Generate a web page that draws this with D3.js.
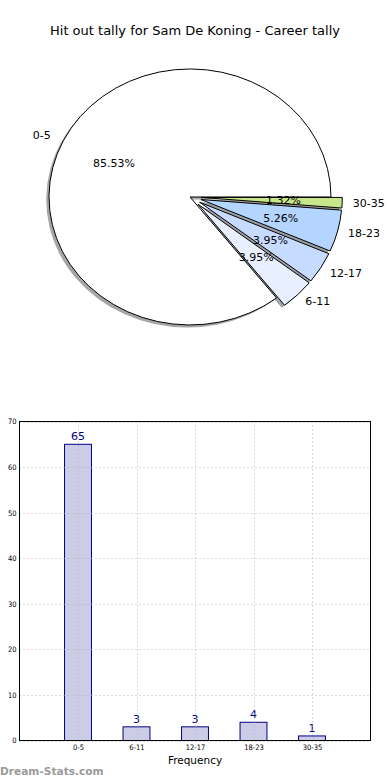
<!DOCTYPE html>
<html>
<head>
<meta charset="utf-8">
<script src="https://cdn.jsdelivr.net/npm/d3@7"></script>
<style>
  html, body { margin: 0; padding: 0; background: #fff; }
  svg { display: block; font-family: "DejaVu Sans", sans-serif; }
</style>
</head>
<body>
<svg id="chart" width="390" height="780"></svg>
<script>
// ---- data ----
const title = "Hit out tally for Sam De Koning - Career tally";
const categories = ["0-5", "6-11", "12-17", "18-23", "30-35"];
const counts = [65, 3, 3, 4, 1];
const pieColors = ["#ffffff", "#e8f0ff", "#c6dbff", "#b3d5ff", "#c8e68a"];
const explode = [0, 0.08, 0.08, 0.08, 0.08];
const yTicks = [0, 10, 20, 30, 40, 50, 60, 70];
const xLabel = "Frequency";
const watermark = "Dream-Stats.com";

(function () {
const svg = d3.select("#chart");

// ---- title ----
svg.append("text").attr("x", 195).attr("y", 35).attr("text-anchor", "middle")
  .attr("font-size", 13).attr("fill", "#000").text(title);

// ---- pie (matplotlib style: start at east, counter-clockwise, elliptical) ----
const cx = 190, cy = 197, rx = 141, ry = 128;
const total = d3.sum(counts);
const pie = d3.pie().sort(null).startAngle(Math.PI / 2).endAngle(Math.PI / 2 - 2 * Math.PI);
const arcs = pie(counts);
const arc = d3.arc().innerRadius(0).outerRadius(1);
const pieG = svg.append("g");

function offsetOf(d, dist) {
  const a = (d.startAngle + d.endAngle) / 2;
  return [cx + dist * rx * Math.sin(a), cy - dist * ry * Math.cos(a)];
}

// shadows (below all wedges)
arcs.forEach((d, i) => {
  const [ox, oy] = offsetOf(d, explode[i]);
  const c = d3.rgb(pieColors[i]);
  pieG.append("path")
    .attr("d", arc(d))
    .attr("transform", `translate(${ox - 2.8},${oy + 2.6}) scale(${rx},${ry})`)
    .attr("fill", d3.rgb(c.r * 0.3, c.g * 0.3, c.b * 0.3))
    .attr("fill-opacity", 0.5)
    .attr("stroke", "none");
});
// wedges
arcs.forEach((d, i) => {
  const [ox, oy] = offsetOf(d, explode[i]);
  pieG.append("path")
    .attr("d", arc(d))
    .attr("transform", `translate(${ox},${oy}) scale(${rx},${ry})`)
    .attr("fill", pieColors[i])
    .attr("stroke", "#000")
    .attr("stroke-width", 1)
    .attr("vector-effect", "non-scaling-stroke")
    .attr("stroke-linejoin", "round");
});
// labels
arcs.forEach((d, i) => {
  const a = (d.startAngle + d.endAngle) / 2;
  const [lx, ly] = offsetOf(d, 1.1 + explode[i] * 0.7);
  pieG.append("text")
    .attr("x", lx).attr("y", ly).attr("dy", "0.35em")
    .attr("text-anchor", Math.sin(a) > 0 ? "start" : "end")
    .attr("font-size", 11).attr("fill", "#000")
    .text(categories[i]);
  const [px, py] = offsetOf(d, 0.6 + explode[i] * 0.8);
  pieG.append("text")
    .attr("x", px).attr("y", py).attr("dy", "0.35em")
    .attr("text-anchor", "middle")
    .attr("font-size", 11).attr("fill", "#000")
    .text((counts[i] / total * 100).toFixed(2) + "%");
});

// ---- bar chart ----
const pLeft = 19.5, pRight = 370.5, pTop = 421.5, pBottom = 740.5;
const x = d3.scaleLinear().domain([-1, categories.length]).range([pLeft, pRight]);
const y = d3.scaleLinear().domain([0, 70]).range([pBottom, pTop]);
const barW = 0.46;
const barG = svg.append("g");

barG.selectAll("rect.bar").data(counts).join("rect")
  .attr("class", "bar")
  .attr("x", (d, i) => x(i - barW / 2))
  .attr("width", x(barW) - x(0))
  .attr("y", d => y(d))
  .attr("height", d => y(0) - y(d))
  .attr("fill", "#000080").attr("fill-opacity", 0.2)
  .attr("stroke", "#000080").attr("stroke-width", 1);

// grid
const gridG = svg.append("g").attr("stroke", "#b4b4b4").attr("stroke-width", 1)
  .attr("stroke-dasharray", "1,3");
yTicks.forEach(t => {
  gridG.append("line").attr("x1", pLeft).attr("x2", pRight)
    .attr("y1", Math.round(y(t)) + 0.5).attr("y2", Math.round(y(t)) + 0.5);
});
categories.forEach((c, i) => {
  gridG.append("line").attr("x1", Math.round(x(i)) + 0.5).attr("x2", Math.round(x(i)) + 0.5)
    .attr("y1", pTop).attr("y2", pBottom);
});

// value labels
barG.selectAll("text.val").data(counts).join("text")
  .attr("class", "val")
  .attr("x", (d, i) => x(i)).attr("y", d => y(d) - 4)
  .attr("text-anchor", "middle").attr("font-size", 11).attr("fill", "#000080")
  .text(d => d);

// axes frame
svg.append("rect").attr("x", pLeft).attr("y", pTop)
  .attr("width", pRight - pLeft).attr("height", pBottom - pTop)
  .attr("fill", "none").attr("stroke", "#000").attr("stroke-width", 1);

// y tick labels
const yAxis = d3.axisLeft(y).tickValues(yTicks).tickSize(0).tickPadding(3);
const yg = svg.append("g").attr("transform", `translate(${pLeft},0)`).call(yAxis);
yg.select(".domain").remove();
yg.selectAll("text").attr("font-size", 7.5).attr("font-family", "DejaVu Sans Condensed, DejaVu Sans, sans-serif").attr("fill", "#000");

// x tick labels
const xAxis = d3.axisBottom(x).tickValues(d3.range(categories.length))
  .tickFormat(i => categories[i]).tickSize(0).tickPadding(4);
const xg = svg.append("g").attr("transform", `translate(0,${pBottom})`).call(xAxis);
xg.select(".domain").remove();
xg.selectAll("text").attr("font-size", 7.5).attr("font-family", "DejaVu Sans Condensed, DejaVu Sans, sans-serif").attr("fill", "#000");

// x label
svg.append("text").attr("x", (pLeft + pRight) / 2).attr("y", 764).attr("text-anchor", "middle")
  .attr("font-size", 10.5).attr("fill", "#000").text(xLabel);

// watermark
svg.append("text").attr("x", 0).attr("y", 775)
  .attr("font-size", 10.6).attr("font-weight", "bold").attr("fill", "#9a9a9a")
  .text(watermark);
})();
</script>
</body>
</html>
